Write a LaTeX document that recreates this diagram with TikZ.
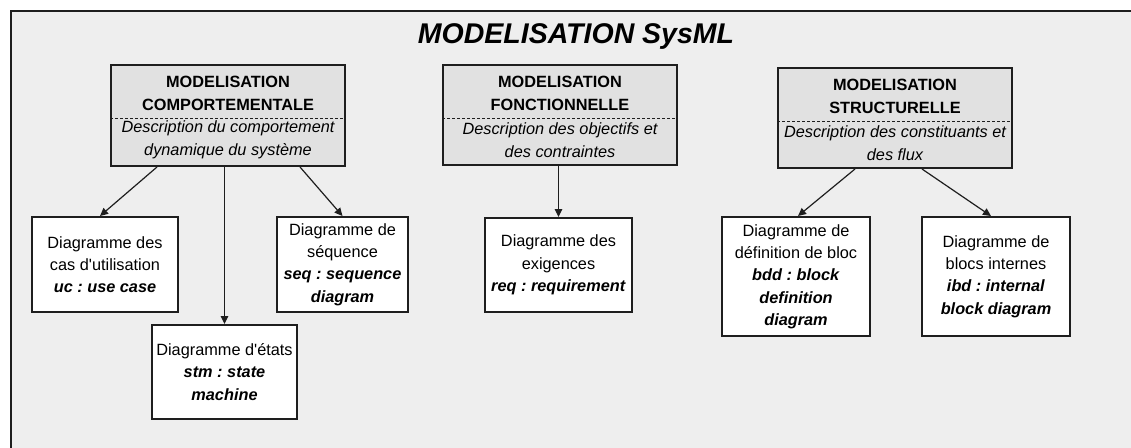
\documentclass[tikz,border=0pt]{standalone}
\usepackage{fontspec}
\setmainfont{Liberation Sans}
\usetikzlibrary{arrows.meta}
\frenchspacing
\definecolor{panel}{HTML}{EEEEEE}
\definecolor{headfill}{HTML}{E1E1E1}
\definecolor{ink}{HTML}{1E1E1E}
\tikzset{
  bodyfont/.style={font=\fontsize{16.3}{22.3}\selectfont},
  headbox/.style={draw=ink, line width=2pt, fill=headfill, inner sep=0pt},
  diagbox/.style={draw=ink, line width=2pt, fill=white, inner sep=0pt, align=center, bodyfont},
  headtitle/.style={align=center, inner sep=0pt, font=\fontsize{16.3}{22.8}\selectfont\bfseries},
  headdesc/.style={align=center, inner sep=0pt, font=\fontsize{16.3}{22.5}\selectfont\itshape},
  sepline/.style={ink, line width=0.6pt, dash pattern=on 3pt off 2pt},
  link/.style={ink, line width=1.2pt, -{Triangle[length=8pt,width=7.5pt]}},
}
\newcommand{\code}[1]{\textbf{\textit{#1}}}
\newcommand{\apos}{\textquotesingle}
\begin{document}
\begin{tikzpicture}[x=1pt,y=-1pt]
\useasboundingbox (0,0) rectangle (1131,447);
\clip (0,0) rectangle (1131,447);
\fill[white] (0,0) rectangle (1131,447);
% outer frame, running off the right and bottom edges
\draw[ink, line width=2pt, fill=panel] (11,11) rectangle (1160,480);
\node[anchor=base, inner sep=0pt, font=\fontsize{28.5}{30}\selectfont\bfseries\itshape] (title) at (576,43) {MODELISATION SysML};

% behavioural modelling
\node[headbox, minimum width=234pt, minimum height=101pt] (comp) at (228,115.5) {};
\node[headtitle] (compT) at (228,93.5) {MODELISATION\\COMPORTEMENTALE};
\node[headdesc] (compD) at (228,140) {Description du comportement\\dynamique du système};
\draw[sepline] (comp.west |- 0,118) -- (comp.east |- 0,118);

% functional modelling
\node[headbox, minimum width=234pt, minimum height=100pt] (fonc) at (560,115) {};
\node[headtitle] (foncT) at (560,93.5) {MODELISATION\\FONCTIONNELLE};
\node[headdesc] (foncD) at (560,140) {Description des objectifs et\\des contraintes};
\draw[sepline] (fonc.west |- 0,118) -- (fonc.east |- 0,118);

% structural modelling
\node[headbox, minimum width=234pt, minimum height=100pt] (struc) at (895,118) {};
\node[headtitle] (strucT) at (895,96.5) {MODELISATION\\STRUCTURELLE};
\node[headdesc] (strucD) at (895,143) {Description des constituants et\\des flux};
\draw[sepline] (struc.west |- 0,121) -- (struc.east |- 0,121);

% SysML diagrams
\node[diagbox, minimum width=146pt, minimum height=95pt] (uc) at (105,264.5)
  {Diagramme des\\cas d\apos utilisation\\\code{uc : use case}};
\node[diagbox, minimum width=131pt, minimum height=95pt] (seq) at (342.5,264.5)
  {Diagramme de\\séquence\\\code{seq : sequence}\\\code{diagram}};
\node[diagbox, minimum width=145pt, minimum height=94pt] (stm) at (224.5,372)
  {Diagramme d\apos états\\\code{stm : state}\\\code{machine}};
\node[diagbox, minimum width=147pt, minimum height=94pt] (req) at (558.5,265)
  {Diagramme des\\exigences\\\code{req : requirement}};
\node[diagbox, minimum width=148pt, minimum height=119pt] (bdd) at (796,276.5)
  {Diagramme de\\définition de bloc\\\code{bdd : block}\\\code{definition}\\\code{diagram}};
\node[diagbox, minimum width=148pt, minimum height=119pt] (ibd) at (996,276.5)
  {Diagramme de\\blocs internes\\\code{ibd : internal}\\\code{block diagram}};

% connectors
\draw[link] ([xshift=-71pt]comp.south) -- ([xshift=-5pt]uc.north);
\draw[link] (stm.north |- comp.south) -- (stm.north);
\draw[link] ([xshift=72pt]comp.south) -- (seq.north);
\draw[link] (req.north |- fonc.south) -- (req.north);
\draw[link] ([xshift=-40pt]struc.south) -- ([xshift=2pt]bdd.north);
\draw[link] ([xshift=27pt]struc.south) -- ([xshift=-5pt]ibd.north);
\end{tikzpicture}
\end{document}
